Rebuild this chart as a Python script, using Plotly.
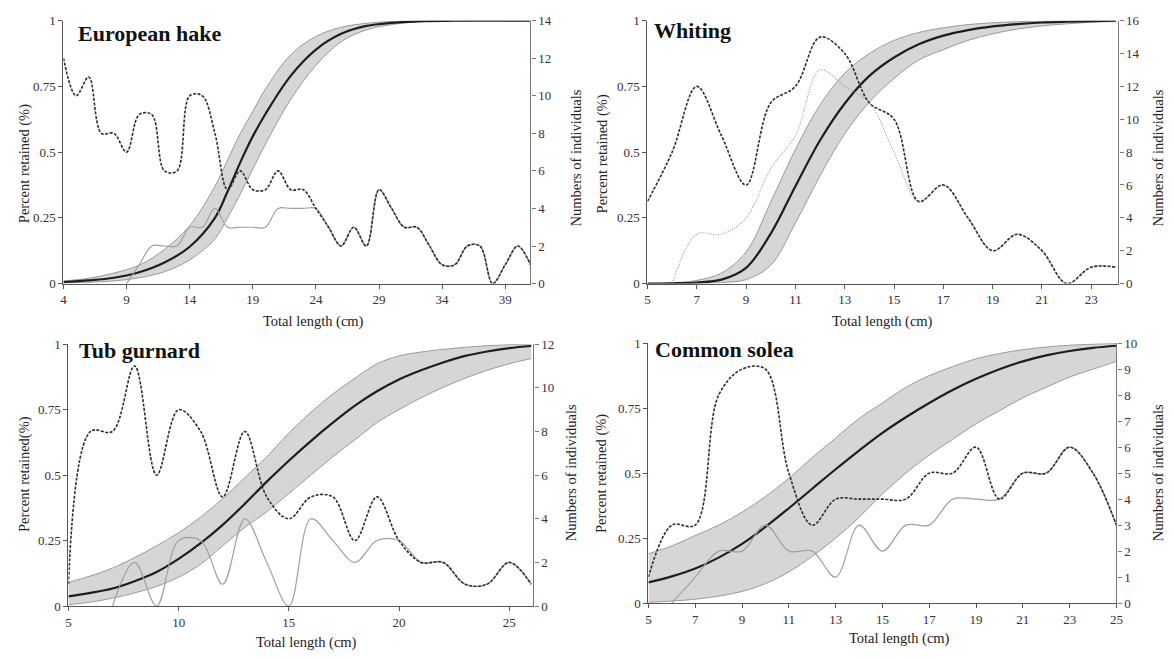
import plotly.graph_objects as go

W, H = 1174, 659

# ---------------- data ----------------
# European hake
hake_len = [4, 6, 8, 10, 12, 14, 16, 17, 18, 19, 20, 22, 24, 26, 28, 30, 32, 35, 41]
hake_sel = [0.006, 0.012, 0.022, 0.043, 0.08, 0.14, 0.25, 0.35, 0.46, 0.56, 0.645, 0.79, 0.89, 0.95, 0.98, 0.992, 0.997, 1.0, 1.0]
hake_up = [0.01, 0.02, 0.04, 0.07, 0.13, 0.22, 0.37, 0.47, 0.57, 0.655, 0.74, 0.87, 0.94, 0.975, 0.99, 0.997, 1.0, 1.0, 1.0]
hake_lo = [0.002, 0.005, 0.01, 0.022, 0.045, 0.09, 0.17, 0.25, 0.34, 0.435, 0.53, 0.70, 0.83, 0.92, 0.965, 0.985, 0.995, 1.0, 1.0]
hake_n_len = list(range(4, 42))
hake_total = [12, 10, 11, 8, 8, 7, 9, 9, 6, 6, 10, 10, 8, 5, 6, 5, 5, 6, 5, 5, 4, 3, 2, 3, 2, 5, 4, 3, 3, 2, 1, 1, 2, 2, 0, 1, 2, 1]
hake_ret_len = list(range(9, 42))
hake_ret = [0, 1, 2, 2, 2, 3, 3, 4, 3, 3, 3, 3, 4, 4, 4, 4, 3, 2, 3, 2, 5, 4, 3, 3, 2, 1, 1, 2, 2, 0, 1, 2, 1]

# Whiting
whit_len = list(range(5, 25))
whit_sel = [0.0, 0.001, 0.004, 0.015, 0.06, 0.19, 0.37, 0.545, 0.685, 0.79, 0.86, 0.91, 0.943, 0.964, 0.978, 0.987, 0.993, 0.996, 0.998, 1.0]
whit_up = [0.0, 0.003, 0.012, 0.04, 0.12, 0.31, 0.51, 0.68, 0.80, 0.875, 0.925, 0.955, 0.973, 0.985, 0.992, 0.996, 0.998, 1.0, 1.0, 1.0]
whit_lo = [0.0, 0.0, 0.001, 0.004, 0.015, 0.07, 0.23, 0.41, 0.57, 0.69, 0.78, 0.85, 0.89, 0.925, 0.95, 0.968, 0.98, 0.988, 0.994, 0.997]
whit_total = [5, 8, 12, 9, 6, 11, 12, 15, 14, 11, 10, 5, 6, 4, 2, 3, 2, 0, 1, 1]
whit_ret_len = list(range(6, 25))
whit_ret = [0, 3, 3, 4, 7, 9, 13, 12, 11, 8, 5, 6, 4, 2, 3, 2, 0, 1, 1]

# Tub gurnard
tub_len = list(range(5, 27))
tub_sel = [0.037, 0.05, 0.067, 0.095, 0.13, 0.18, 0.24, 0.31, 0.39, 0.475, 0.555, 0.63, 0.70, 0.765, 0.82, 0.865, 0.90, 0.93, 0.955, 0.972, 0.985, 0.993]
tub_up = [0.09, 0.115, 0.145, 0.185, 0.23, 0.28, 0.34, 0.41, 0.49, 0.57, 0.66, 0.74, 0.81, 0.87, 0.925, 0.955, 0.97, 0.98, 0.988, 0.994, 0.998, 1.0]
tub_lo = [0.005, 0.015, 0.03, 0.05, 0.075, 0.11, 0.16, 0.23, 0.30, 0.36, 0.43, 0.50, 0.57, 0.635, 0.70, 0.75, 0.795, 0.835, 0.87, 0.90, 0.925, 0.945]
tub_total = [1, 8, 8, 11, 6, 9, 8, 5, 8, 5, 4, 5, 5, 3, 5, 3, 2, 2, 1, 1, 2, 1]
tub_ret_len = list(range(7, 27))
tub_ret = [0, 2, 0, 3, 3, 1, 4, 2, 0, 4, 3, 2, 3, 3, 2, 2, 1, 1, 2, 1]

# Common solea
sol_len = list(range(5, 26))
sol_sel = [0.08, 0.103, 0.133, 0.175, 0.228, 0.293, 0.365, 0.44, 0.515, 0.587, 0.655, 0.715, 0.77, 0.82, 0.863, 0.90, 0.93, 0.953, 0.97, 0.982, 0.99]
sol_up = [0.19, 0.22, 0.26, 0.30, 0.35, 0.41, 0.48, 0.56, 0.635, 0.71, 0.77, 0.83, 0.875, 0.91, 0.94, 0.96, 0.975, 0.985, 0.992, 0.996, 0.999]
sol_lo = [0.003, 0.008, 0.015, 0.027, 0.045, 0.075, 0.12, 0.18, 0.25, 0.33, 0.42, 0.50, 0.57, 0.63, 0.69, 0.74, 0.79, 0.83, 0.87, 0.90, 0.93]
sol_total = [1, 3, 3, 8, 9, 9, 5, 3, 4, 4, 4, 4, 5, 5, 6, 4, 5, 5, 6, 5, 3]
sol_ret_len = list(range(6, 26))
sol_ret = [0, 1, 2, 2, 3, 2, 2, 1, 3, 2, 3, 3, 4, 4, 4, 5, 5, 6, 5, 3]

# ---------------- layout helpers ----------------
def px(x):
    return x / W

def py(y):
    return 1 - y / H

FONT = "Liberation Serif, Times New Roman, serif"

panels = [
    dict(name="European hake", xd=(61, 532), yd=(14, 283), xr=[4, 41], x0=4, dx=5, nmax=14, ndt=2,
         L=hake_len, S=hake_sel, U=hake_up, Lo=hake_lo, NL=hake_n_len, N=hake_total, RL=hake_ret_len, R=hake_ret,
         title_xy=(74, 27), ylab="Percent retained (%)", ylab_xy=(22, 160), rlab_xy=(578, 155), xlab_xy=(313, 322),
         retdash="solid"),
    dict(name="Whiting", xd=(650, 1125), yd=(14, 283), xr=[5, 24.1], x0=5, dx=2, nmax=16, ndt=2,
         L=whit_len, S=whit_sel, U=whit_up, Lo=whit_lo, NL=whit_len, N=whit_total, RL=whit_ret_len, R=whit_ret,
         title_xy=(655, 24), ylab="Percent retained (%)", ylab_xy=(605, 150), rlab_xy=(1165, 155), xlab_xy=(887, 322),
         retdash="1px,1.5px"),
    dict(name="Tub gurnard", xd=(66, 535), yd=(345, 613), xr=[5, 26.1], x0=5, dx=5, nmax=12, ndt=2,
         L=tub_len, S=tub_sel, U=tub_up, Lo=tub_lo, NL=tub_len, N=tub_total, RL=tub_ret_len, R=tub_ret,
         title_xy=(75, 352), ylab="Percent retained(%)", ylab_xy=(21, 478), rlab_xy=(573, 477), xlab_xy=(306, 650),
         retdash="solid"),
    dict(name="Common solea", xd=(651, 1123), yd=(344, 610), xr=[5, 25], x0=5, dx=2, nmax=10, ndt=1,
         L=sol_len, S=sol_sel, U=sol_up, Lo=sol_lo, NL=sol_len, N=sol_total, RL=sol_ret_len, R=sol_ret,
         title_xy=(656, 350), ylab="Percent retained (%)", ylab_xy=(603, 477), rlab_xy=(1165, 477), xlab_xy=(904, 646),
         retdash="solid"),
]

fig = go.Figure()
layout = dict(
    width=W, height=H, margin=dict(l=0, r=0, t=0, b=0),
    paper_bgcolor="white", plot_bgcolor="rgba(0,0,0,0)",
    showlegend=False, font=dict(family=FONT, color="#222", size=12),
)
annotations = []

AX = "#555"
TICKF = dict(family=FONT, size=13, color="#333")
for i, p in enumerate(panels):
    k = i + 1
    xa = "x" if k == 1 else f"x{k}"
    yl = 2 * k - 1
    yr = 2 * k
    yla = "y" if yl == 1 else f"y{yl}"
    yra = f"y{yr}"
    xkey = "xaxis" if k == 1 else f"xaxis{k}"
    ylkey = "yaxis" if yl == 1 else f"yaxis{yl}"
    yrkey = f"yaxis{yr}"

    layout[xkey] = dict(
        domain=[px(p["xd"][0]), px(p["xd"][1])], range=p["xr"], anchor=yla,
        tick0=p["x0"], dtick=p["dx"], ticks="outside", ticklen=4, tickcolor=AX,
        showline=True, linecolor=AX, linewidth=1.2, showgrid=False, zeroline=False,
        tickfont=TICKF, fixedrange=True,
    )
    layout[ylkey] = dict(
        domain=[py(p["yd"][1]), py(p["yd"][0])], range=[0, 1], anchor=xa,
        tickvals=[0, 0.25, 0.5, 0.75, 1], ticktext=["0", "0.25", "0.5", "0.75", "1"],
        ticks="outside", ticklen=4, tickcolor=AX,
        showline=True, linecolor=AX, linewidth=1.2, showgrid=False, zeroline=False,
        tickfont=TICKF, fixedrange=True,
    )
    layout[yrkey] = dict(
        overlaying=yla, side="right", anchor=xa, range=[0, p["nmax"]], dtick=p["ndt"], tick0=0,
        ticks="outside", ticklen=4, tickcolor="#777",
        showline=True, linecolor="#777", linewidth=1.2, showgrid=False, zeroline=False,
        tickfont=TICKF, fixedrange=True,
    )

    # confidence band
    fig.add_trace(go.Scatter(x=p["L"], y=p["Lo"], xaxis=xa, yaxis=yla, mode="lines",
                             line=dict(color="#9a9a9a", width=1, shape="spline"), hoverinfo="skip"))
    fig.add_trace(go.Scatter(x=p["L"], y=p["U"], xaxis=xa, yaxis=yla, mode="lines",
                             line=dict(color="#9a9a9a", width=1, shape="spline"),
                             fill="tonexty", fillcolor="#d6d6d6", hoverinfo="skip"))
    # selection curve
    fig.add_trace(go.Scatter(x=p["L"], y=p["S"], xaxis=xa, yaxis=yla, mode="lines",
                             line=dict(color="#1e1e1e", width=2.2, shape="spline")))
    # retained numbers
    fig.add_trace(go.Scatter(x=p["RL"], y=p["R"], xaxis=xa, yaxis=yra, mode="lines",
                             line=dict(color="#a0a0a0", width=1.2, dash=p["retdash"], shape="spline", smoothing=1.0),
                             cliponaxis=True))
    # total numbers
    fig.add_trace(go.Scatter(x=p["NL"], y=p["N"], xaxis=xa, yaxis=yra, mode="lines",
                             line=dict(color="#2e2e2e", width=1.6, dash="3px,1.5px", shape="spline", smoothing=1.0),
                             cliponaxis=True))

    annotations.append(dict(text="<b>" + p["name"] + "</b>", x=px(p["title_xy"][0]), y=py(p["title_xy"][1]),
                            xref="paper", yref="paper", xanchor="left", yanchor="middle", showarrow=False,
                            font=dict(family=FONT, size=22, color="#111")))
    annotations.append(dict(text=p["ylab"], x=px(p["ylab_xy"][0]), y=py(p["ylab_xy"][1]),
                            xref="paper", yref="paper", xanchor="center", yanchor="middle", showarrow=False,
                            textangle=-90, font=dict(family=FONT, size=14.5, color="#222")))
    annotations.append(dict(text="Numbers of individuals", x=px(p["rlab_xy"][0]), y=py(p["rlab_xy"][1]),
                            xref="paper", yref="paper", xanchor="center", yanchor="middle", showarrow=False,
                            textangle=-90, font=dict(family=FONT, size=14.5, color="#222")))
    annotations.append(dict(text="Total length (cm)", x=px(p["xlab_xy"][0]), y=py(p["xlab_xy"][1]),
                            xref="paper", yref="paper", xanchor="center", yanchor="middle", showarrow=False,
                            font=dict(family=FONT, size=14.5, color="#222")))

layout["annotations"] = annotations
fig.update_layout(**layout)
fig.write_html("out.html")
